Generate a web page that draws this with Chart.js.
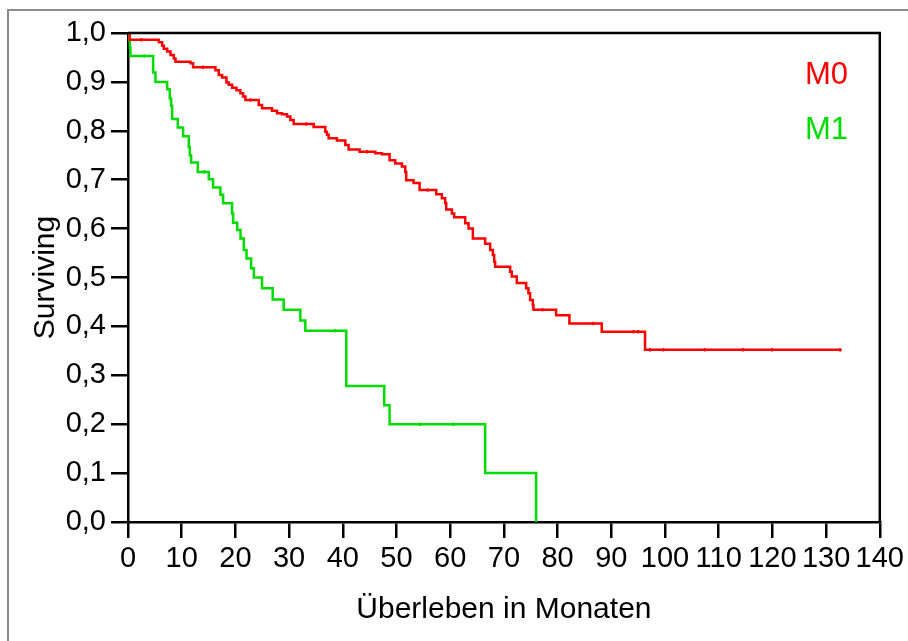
<!DOCTYPE html>
<html>
<head>
<meta charset="utf-8">
<style>
  html, body { margin: 0; padding: 0; background: #fff; }
  #wrap { width: 908px; height: 641px; }
</style>
<script src="https://cdn.jsdelivr.net/npm/chart.js@4.4.1/dist/chart.umd.min.js"></script>
</head>
<body>
<div id="wrap"><canvas id="km" width="908" height="641"></canvas></div>
<script>
// Kaplan-Meier survival estimates (months, cumulative survival)
const groupNames = ['M0', 'M1'];

const m0Times = [0, 0.3, 5.74, 6.36, 6.67, 7.29, 7.91, 8.53, 8.84, 11.63, 12.12, 16.28, 16.90, 17.52, 18.33, 18.76,
  19.38, 20.19, 20.93, 21.43, 21.86, 24.34, 24.96, 26.82, 27.75, 28.68, 29.61, 30.23, 30.85, 34.57, 36.74,
  37.05, 37.36, 38.91, 40.47, 41.08, 43.13, 46.05, 47.29, 48.71, 49.77, 51.0, 51.63, 51.81, 53.18, 54.30,
  57.40, 58.45, 59.07, 59.26, 60.31, 60.74, 62.79, 63.41, 64.22, 66.51, 67.44, 67.94, 68.19, 68.37, 71.16,
  71.47, 72.40, 74.14, 74.57, 74.88, 75.38, 75.50, 79.72, 82.20, 88.22, 96.28, 132.6];
const m0Surv = [1.0, 0.986, 0.981, 0.974, 0.968, 0.962, 0.955, 0.948, 0.941, 0.938, 0.930, 0.924, 0.914, 0.909, 0.899, 0.894,
  0.888, 0.883, 0.877, 0.870, 0.863, 0.853, 0.846, 0.841, 0.836, 0.834, 0.829, 0.822, 0.814, 0.808, 0.798,
  0.792, 0.785, 0.780, 0.771, 0.762, 0.757, 0.754, 0.752, 0.740, 0.733, 0.727, 0.716, 0.699, 0.693, 0.679,
  0.670, 0.662, 0.652, 0.639, 0.631, 0.623, 0.611, 0.600, 0.580, 0.569, 0.556, 0.546, 0.532, 0.522, 0.512,
  0.502, 0.489, 0.478, 0.468, 0.454, 0.444, 0.434, 0.423, 0.406, 0.389, 0.352, 0.352];

const m1Times = [0, 0.2, 0.35, 0.45, 4.68, 5.12, 7.29, 7.78, 8.03, 8.22, 9.27, 10.26, 11.32, 11.50, 11.75, 12.99,
  15.04, 15.84, 17.21, 17.71, 19.38, 19.57, 20.33, 20.95, 21.57, 22.07, 22.93, 23.43, 24.96, 26.94, 28.99,
  32.09, 33.02, 40.65, 47.72, 48.71, 66.51, 76.0];
const m1Surv = [1.0, 0.985, 0.970, 0.953, 0.919, 0.900, 0.885, 0.866, 0.851, 0.824, 0.807, 0.789, 0.767, 0.750, 0.735, 0.716,
  0.701, 0.684, 0.669, 0.652, 0.631, 0.612, 0.597, 0.580, 0.556, 0.539, 0.519, 0.500, 0.478, 0.455, 0.434,
  0.412, 0.391, 0.278, 0.239, 0.200, 0.100, 0.0];

// censored observations (months)
const m0Censored = [2.5, 14.0, 22.8, 33.2, 44.5, 55.8, 77.2, 86.6, 94.1, 95.0, 97.2, 99.7, 107.4, 114.5, 119.9, 132.6];
const m1Censored = [3.0, 14.2, 38.6, 54.4, 60.6];

const groupColors = ['#ff0000', '#00dc00'];

function toPoints(times, surv) {
  return times.map((t, i) => ({ x: t, y: surv[i] }));
}
// survival estimate at time t from the step function
function survAt(times, surv, t) {
  let v = surv[0];
  for (let i = 0; i < times.length; i++) { if (times[i] <= t) v = surv[i]; }
  return v;
}
function censorPoints(cens, times, surv) {
  return cens.map(t => ({ x: t, y: survAt(times, surv, t) }));
}

const frameAndLabels = {
  id: 'frameAndLabels',
  beforeDraw(chart) {
    const ctx = chart.ctx;
    ctx.save();
    ctx.strokeStyle = '#8c8c8c';
    ctx.lineWidth = 2;
    ctx.beginPath();
    ctx.moveTo(8, 660);
    ctx.lineTo(8, 10);
    ctx.lineTo(930, 10);
    ctx.stroke();
    ctx.restore();
  },
  afterDraw(chart) {
    const ctx = chart.ctx;
    const a = chart.chartArea;
    ctx.save();
    ctx.strokeStyle = '#000';
    ctx.lineWidth = 2.5;
    ctx.beginPath();
    ctx.moveTo(a.left, a.top);
    ctx.lineTo(a.right, a.top);
    ctx.lineTo(a.right, a.bottom);
    ctx.stroke();
    // group labels
    ctx.font = '31px "Liberation Sans", Arial, sans-serif';
    ctx.textBaseline = 'alphabetic';
    ctx.textAlign = 'left';
    ctx.fillStyle = groupColors[0];
    ctx.fillText(groupNames[0], 805, 84);
    ctx.fillStyle = groupColors[1];
    ctx.fillText(groupNames[1], 805, 139);
    ctx.restore();
  }
};

const fontFam = '"Liberation Sans", Arial, sans-serif';

new Chart(document.getElementById('km'), {
  type: 'line',
  data: {
    datasets: [
      {
        label: groupNames[0],
        data: toPoints(m0Times, m0Surv),
        stepped: 'before',
        borderColor: groupColors[0],
        borderWidth: 2.5,
        pointRadius: 0,
        fill: false
      },
      {
        label: groupNames[1],
        data: toPoints(m1Times, m1Surv),
        stepped: 'before',
        borderColor: groupColors[1],
        borderWidth: 2.5,
        pointRadius: 0,
        fill: false
      },
      {
        label: groupNames[0] + ' zensiert',
        data: censorPoints(m0Censored, m0Times, m0Surv),
        showLine: false,
        pointStyle: 'circle',
        pointRadius: 1.3,
        borderWidth: 1,
        borderColor: groupColors[0],
        backgroundColor: groupColors[0]
      },
      {
        label: groupNames[1] + ' zensiert',
        data: censorPoints(m1Censored, m1Times, m1Surv),
        showLine: false,
        pointStyle: 'circle',
        pointRadius: 1.3,
        borderWidth: 1,
        borderColor: groupColors[1],
        backgroundColor: groupColors[1]
      }
    ]
  },
  options: {
    responsive: false,
    animation: false,
    devicePixelRatio: 1,
    layout: { padding: { left: 0, top: 33, right: 28, bottom: 0 } },
    plugins: {
      legend: { display: false },
      tooltip: { enabled: false }
    },
    scales: {
      x: {
        type: 'linear',
        min: 0,
        max: 140,
        afterFit(scale) { scale.height = 119; },
        ticks: {
          stepSize: 10,
          color: '#000',
          padding: 4,
          maxRotation: 0,
          autoSkip: false,
          font: { family: fontFam, size: 29 }
        },
        grid: { drawOnChartArea: false, drawTicks: true, tickLength: 16, lineWidth: 2.5, color: '#000' },
        border: { display: true, width: 2.5, color: '#000' },
        title: {
          display: true,
          text: 'Überleben in Monaten',
          color: '#000',
          font: { family: fontFam, size: 30 },
          padding: { top: 0, bottom: 13 }
        }
      },
      y: {
        min: 0,
        max: 1,
        afterFit(scale) { scale.width = 128; },
        ticks: {
          stepSize: 0.1,
          color: '#000',
          padding: 5,
          font: { family: fontFam, size: 29 },
          callback: v => v.toFixed(1).replace('.', ',')
        },
        grid: { drawOnChartArea: false, drawTicks: true, tickLength: 17, lineWidth: 2.5, color: '#000' },
        border: { display: true, width: 2.5, color: '#000' },
        title: {
          display: true,
          text: 'Surviving',
          color: '#000',
          font: { family: fontFam, size: 30 },
          padding: { top: 28, bottom: 0 }
        }
      }
    }
  },
  plugins: [frameAndLabels]
});
</script>
</body>
</html>
